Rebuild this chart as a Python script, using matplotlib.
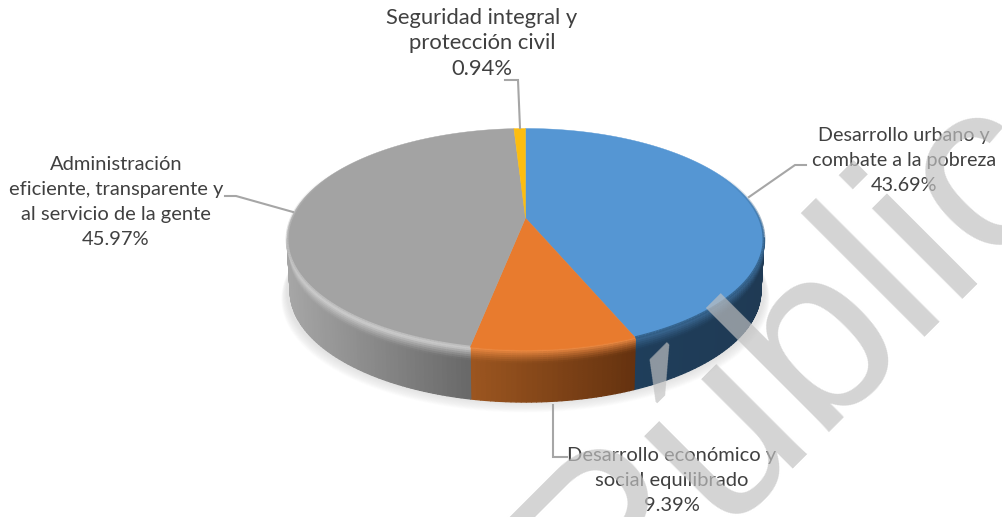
import numpy as np
import matplotlib
matplotlib.use("Agg")
import matplotlib.pyplot as plt
from matplotlib.collections import PolyCollection, LineCollection
from matplotlib.colors import to_rgb

plt.rcParams['font.family'] = ['Lato', 'DejaVu Sans']

categories = ["Desarrollo urbano y\ncombate a la pobreza",
              "Desarrollo económico y\nsocial equilibrado",
              "Administración\neficiente, transparente y\nal servicio de la gente",
              "Seguridad integral y\nprotección civil"]
values = [43.69, 9.39, 45.97, 0.94]
top_colors = ["#5596d3", "#e87b2e", "#a3a3a3", "#fdbd0f"]
side_left = ["#1f3e5b", "#9c5620", "#a6a6a6", "#8a6a10"]
side_right = ["#1f3a54", "#65320f", "#686868", "#8a6a10"]
rim_light = ["#3f6f9c", "#f58f45", "#dedede", "#fdbd0f"]
edge_colors = ["#2f5a80", "#e87b2e", "#c4c4c4", "#fdbd0f"]

label_x = [904, 672, 116, 482]
label_y = [135, 455, 164, 18]
label_size = [14.2, 14.5, 14.5, 15.8]
leader_x = [[749, 795, 806], [553, 553, 567], [293, 236, 225], [520, 518, 505]]
leader_y = [[197, 165, 165], [405, 457, 457], [212, 196, 196], [128, 80, 80]]

# tilted disc, the centre sits above the middle of the ellipse
cx, cy = 525.5, 218
a0, b0, k = 234, 106.7, 0.192
depth = 52
shrink = 0.987  # lower edge of the wall is a bit narrower


def rim(t):
    X, Y = np.sin(t), np.cos(t)
    w = 1 + k * Y
    return cx + a0 * X / w, cy - b0 * Y / w


edges = np.concatenate([[0], np.cumsum(values)]) / np.sum(values) * 2 * np.pi

fig = plt.figure(figsize=(10.02, 5.17), dpi=100)
ax = fig.add_axes([0, 0, 1, 1])
ax.set_xlim(0, 1002)
ax.set_ylim(517, 0)
ax.axis("off")

# soft shadow under the disc
tt = np.linspace(0, 2 * np.pi, 361)
rx, ry = rim(tt)
for i in range(12):
    grow = 1 + 0.002 * (12 - i)
    ax.fill(cx + (rx - cx) * grow, cy + (ry - cy) * grow + depth + 0.6 * (12 - i),
            color="#a0a0a0", alpha=0.025, lw=0, zorder=1)

# side wall as small quads, colour follows slice and height
quads = []
cols = []
nv = 26
for s in range(len(values)):
    t0, t1 = edges[s], edges[s + 1]
    n = max(int(np.degrees(t1 - t0)), 1)
    ts = np.linspace(t0, t1, n + 1)
    xs, ys = rim(ts)
    front = np.cos(ts) < -k
    if front.sum() < 2:
        continue
    xmin, xmax = xs[front].min(), xs[front].max()
    cl, cr, hi = np.array(to_rgb(side_left[s])), np.array(to_rgb(side_right[s])), np.array(to_rgb(rim_light[s]))
    for j in range(n):
        # back part of the wall is hidden by the top face
        if not (front[j] or front[j + 1]):
            continue
        f = np.clip((0.5 * (xs[j] + xs[j + 1]) - xmin) / max(xmax - xmin, 1), 0, 1)
        base = cl + (cr - cl) * f
        for v in range(nv):
            v0, v1 = v / nv, (v + 1) / nv
            s0 = 1 - (1 - shrink) * v0
            s1 = 1 - (1 - shrink) * v1
            quads.append([(cx + (xs[j] - cx) * s0, ys[j] + depth * v0),
                          (cx + (xs[j + 1] - cx) * s0, ys[j + 1] + depth * v0),
                          (cx + (xs[j + 1] - cx) * s1, ys[j + 1] + depth * v1),
                          (cx + (xs[j] - cx) * s1, ys[j] + depth * v1)])
            m = np.clip(1 - (v0 + v1) / 2 / 0.27, 0, 1)
            cols.append(base + (hi - base) * m ** 1.3)
ax.add_collection(PolyCollection(quads, facecolors=cols, edgecolors=cols, linewidths=0.9, zorder=2))

# top face
for s in range(len(values)):
    ts = np.linspace(edges[s], edges[s + 1], 200)
    xs, ys = rim(ts)
    ax.fill(np.r_[cx, xs], np.r_[cy, ys], color=top_colors[s], lw=0.3, zorder=3)

# bevel along the rim of the top face, strongest at the front
for s in [0, 2]:
    ts = np.linspace(edges[s], edges[s + 1], 200)
    xs, ys = rim(ts)
    pts = np.column_stack([xs, ys])
    segs = np.stack([pts[:-1], pts[1:]], axis=1)
    c = np.array(to_rgb(edge_colors[s]))
    strength = np.clip(-np.cos(ts[:-1]) + 0.45, 0, 0.8)
    rgba = np.column_stack([np.tile(c, (len(segs), 1)), strength])
    ax.add_collection(LineCollection(segs, colors=rgba, linewidths=2, capstyle="butt", zorder=3.5))

# leaders and labels
for s in range(len(values)):
    ax.plot(leader_x[s], leader_y[s], color="#a6a6a6", lw=1.5, zorder=4, solid_joinstyle="miter")
    lines = (categories[s] + "\n{:.2f}%".format(values[s])).split("\n")
    for i, line in enumerate(lines):
        ax.text(label_x[s], label_y[s] + i * 25.3, line, ha="center", va="center",
                fontsize=label_size[s], color="#404040", zorder=5)

# watermark
ax.text(604, 638, "Público", rotation=45, rotation_mode="anchor", ha="left", va="baseline",
        fontsize=174, family="Liberation Sans", color="#c1c1c1", alpha=0.69, zorder=6, clip_on=True)

fig.savefig("out.png", dpi=100)
